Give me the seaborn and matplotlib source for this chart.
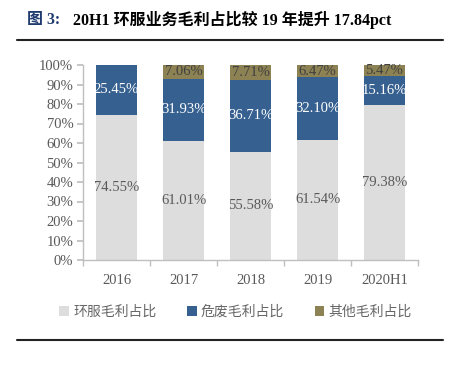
import matplotlib
matplotlib.use("Agg")
import matplotlib.pyplot as plt
import seaborn as sns
import pandas as pd
import numpy as np

categories = ["2016", "2017", "2018", "2019", "2020H1"]
env_service = [74.55, 61.01, 55.58, 61.54, 79.38]
hazardous = [25.45, 31.93, 36.71, 32.10, 15.16]
other = [0.00, 7.06, 7.71, 6.47, 5.47]
series_names = ["环服毛利占比", "危废毛利占比", "其他毛利占比"]
colors = ["#DDDDDD", "#36608F", "#8C8253"]
label_colors = ["#595959", "#FFFFFF", "#404040"]

sns.set_theme(style="white")
plt.rcParams['font.family'] = ['Liberation Serif', 'Noto Sans CJK SC']

fig = plt.figure(figsize=(4.5, 3.67), dpi=100)
ax = fig.add_axes([83/450, 107/367, 335/450, 195/367])

bottom = np.zeros(len(categories))
layers = [env_service, hazardous, other]
for vals, col, name, lc in zip(layers, colors, series_names, label_colors):
    v = np.array(vals)
    sns.barplot(x=categories, y=v, bottom=bottom, color=col, width=0.62,
                ax=ax, label=name, saturation=1, edgecolor="none")
    for i, (b, h) in enumerate(zip(bottom, v)):
        if h > 0:
            top = min(b + h, 100)
            ax.text(i, (b + top) / 2, f"{h:.2f}%", ha="center", va="center",
                    fontsize=10.5, color=lc, family=['Liberation Serif'])
    bottom = bottom + v

ax.set_xlim(-0.5, 4.5)
ax.set_ylim(0, 100)
ax.set_yticks(np.arange(0, 101, 10))
ax.set_yticklabels([f"{t}%" for t in range(0, 101, 10)], fontsize=10.5, color="#595959")
ax.set_xticks(range(len(categories)))
ax.set_xticklabels(categories, fontsize=10.5, color="#595959")
ax.tick_params(axis="x", length=0, pad=10)
ax.tick_params(axis="y", length=4, color="#BFBFBF", direction="out", left=True, pad=3)
ax.set_xticks(np.arange(-0.5, 4.6, 1), minor=True)
ax.tick_params(axis="x", which="minor", length=4, color="#BFBFBF", direction="out", bottom=True)
for s in ["top", "right"]:
    ax.spines[s].set_visible(False)
for s in ["left", "bottom"]:
    ax.spines[s].set_color("#BFBFBF")
    ax.spines[s].set_linewidth(1)
ax.set_xlabel("")
ax.set_ylabel("")
ax.grid(False)

leg = ax.legend(loc="upper center", bbox_to_anchor=(0.5 - 0.045, -0.165), ncol=3, frameon=False,
                handlelength=0.7, handleheight=0.7, handletextpad=0.3, columnspacing=2.2,
                prop={'family': ['Noto Sans CJK SC'], 'size': 10, 'weight': 'light'})
for t in leg.get_texts():
    t.set_color("#666666")

# title
fig.text(27/450, 1 - 20/367, "图 3:", fontsize=11.5, fontweight="bold", color="#1F3A6E",
         va="center", ha="left", family=['Liberation Serif', 'Noto Sans CJK SC'])
fig.text(73/450, 1 - 20/367, "20H1 环服业务毛利占比较 19 年提升 17.84pct", fontsize=11.5,
         fontweight="bold", color="#000000", va="center", ha="left",
         family=['Liberation Serif', 'Noto Sans CJK SC'])

# horizontal rules
fig.add_artist(plt.Line2D([17/450, 443/450], [1 - 40/367, 1 - 40/367], color="#222222", lw=1.5))
fig.add_artist(plt.Line2D([17/450, 443/450], [1 - 340/367, 1 - 340/367], color="#222222", lw=1.5))

fig.savefig("out.png", dpi=100)
